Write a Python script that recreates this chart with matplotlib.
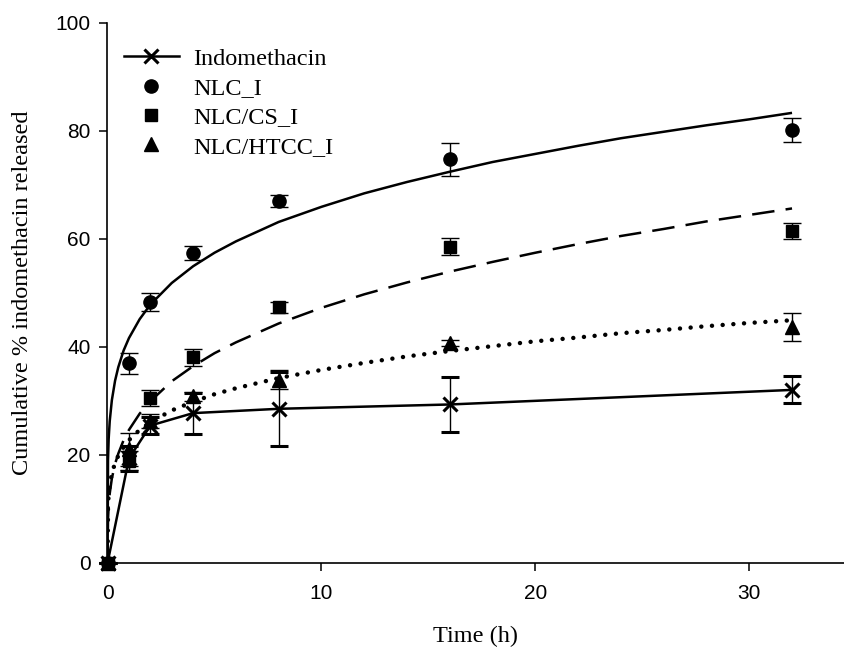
import matplotlib
matplotlib.use("Agg")
import matplotlib.pyplot as plt
from matplotlib.lines import Line2D

# ---- data ----
time_pts = [0, 1, 2, 4, 8, 16, 32]

indo = [0, 19.3, 25.4, 27.7, 28.5, 29.3, 32.0]
indo_err = [0, 2.3, 1.5, 3.8, 6.8, 5.1, 2.5]

nlc = [0, 36.9, 48.3, 57.4, 67.0, 74.7, 80.1]
nlc_err = [0, 2.0, 1.7, 1.3, 1.1, 3.0, 2.2]

nlc_cs = [0, 18.9, 30.5, 38.0, 47.3, 58.5, 61.4]
nlc_cs_err = [0, 1.8, 1.4, 1.6, 1.0, 1.6, 1.5]

nlc_htcc = [0, 21.0, 26.3, 30.8, 33.9, 40.7, 43.6]
nlc_htcc_err = [0, 3.0, 1.3, 0.9, 1.7, 0.6, 2.6]

# fitted curves
fit_t = [0, 0.02, 0.05, 0.1, 0.2, 0.35, 0.5, 0.75, 1, 1.5, 2, 3, 4, 5, 6, 8,
         10, 12, 14, 16, 18, 20, 22, 24, 26, 28, 30, 32]
fit_nlc = [0, 19.0, 22.9, 26.2, 30.1, 33.7, 36.2, 39.3, 41.6, 45.1, 47.8, 51.8,
           54.9, 57.4, 59.5, 63.1, 65.9, 68.4, 70.5, 72.4, 74.2, 75.7, 77.2,
           78.6, 79.8, 81.0, 82.1, 83.3]
fit_cs = [0, 8.1, 10.5, 12.8, 15.6, 18.3, 20.2, 22.7, 24.6, 27.6, 29.9, 33.6,
          36.4, 38.8, 40.8, 44.3, 47.2, 49.7, 51.9, 53.9, 55.7, 57.4, 59.0,
          60.5, 61.8, 63.2, 64.4, 65.6]
fit_htcc = [0, 10.5, 12.6, 14.4, 16.5, 18.5, 19.8, 21.4, 22.7, 24.6, 26.0, 28.2,
            29.8, 31.2, 32.3, 34.2, 35.7, 37.0, 38.2, 39.2, 40.1, 41.0, 41.7,
            42.5, 43.1, 43.8, 44.4, 44.9]

legend_labels = ["Indomethacin", "NLC_I", "NLC/CS_I", "NLC/HTCC_I"]
x_ticks = [0, 10, 20, 30]
y_ticks = [0, 20, 40, 60, 80, 100]

serif = ["Liberation Serif", "DejaVu Serif"]
sans = ["Liberation Sans", "DejaVu Sans"]

fig = plt.figure(figsize=(8.44, 6.5), dpi=100)
ax = fig.add_axes([0.1262, 0.1343, 0.8738, 0.8308])

lw = 1.8
# fitted curves
ax.plot(fit_t, fit_nlc, color="black", lw=lw, solid_capstyle="butt")
ax.plot(fit_t, fit_cs, color="black", lw=lw, dashes=(9.0, 4.5))
ax.plot(fit_t, fit_htcc, color="black", lw=3.2, dashes=(0.01, 2.4),
        dash_capstyle="round")

# data with error bars
eb_kw = dict(ecolor="black", elinewidth=1.0, capsize=6.2, capthick=1.0,
             clip_on=False)
ax.errorbar(time_pts, indo, yerr=indo_err, fmt="-", color="black", lw=lw,
            marker="x", ms=10, mew=2.2, **eb_kw)
ax.errorbar(time_pts, nlc, yerr=nlc_err, fmt="o", color="black", ms=9.5,
            **eb_kw)
ax.errorbar(time_pts, nlc_cs, yerr=nlc_cs_err, fmt="s", color="black", ms=8.5,
            **eb_kw)
ax.errorbar(time_pts, nlc_htcc, yerr=nlc_htcc_err, fmt="^", color="black",
            ms=9.5, **eb_kw)

ax.set_xlim(-0.05, 34.43)
ax.set_ylim(0, 100)
ax.set_xticks(x_ticks)
ax.set_yticks(y_ticks)

for s in ["top", "right"]:
    ax.spines[s].set_visible(False)
for s in ["left", "bottom"]:
    ax.spines[s].set_linewidth(1.2)

ax.tick_params(axis="both", direction="out", length=5.5, width=1.1,
               labelsize=15)
ax.tick_params(axis="x", pad=9.5)
ax.tick_params(axis="y", pad=6.0)
for lab in ax.get_xticklabels() + ax.get_yticklabels():
    lab.set_fontfamily(sans)

ax.set_xlabel("Time (h)", fontsize=17.5, family=serif, labelpad=17)
ax.set_ylabel("Cumulative % indomethacin released", fontsize=17.5,
              family=serif, labelpad=16)

handles = [
    Line2D([], [], color="black", lw=lw, marker="x", ms=10, mew=2.2),
    Line2D([], [], color="black", ls="none", marker="o", ms=9.5),
    Line2D([], [], color="black", ls="none", marker="s", ms=8.5),
    Line2D([], [], color="black", ls="none", marker="^", ms=9.5),
]
ax.legend(handles, legend_labels, loc="upper left",
          bbox_to_anchor=(0.0, 0.985), frameon=False,
          prop={"family": serif, "size": 17.5}, handlelength=2.3,
          handletextpad=0.55, labelspacing=0.3, borderpad=0.2)

fig.savefig("out.png", dpi=100)
